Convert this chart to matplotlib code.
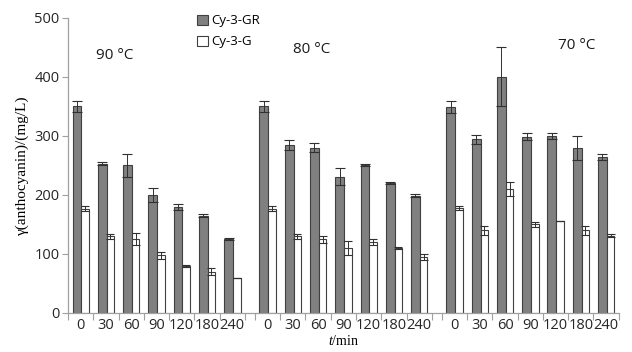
import matplotlib.pyplot as plt
import numpy as np

times = ['0', '30', '60', '90', '120', '180', '240']
temps = ['90 °C', '80 °C', '70 °C']

# Cy-3-GR, one row per temperature
gr = [[350, 253, 250, 200, 180, 165, 125],
      [350, 285, 280, 231, 251, 220, 199],
      [349, 294, 400, 299, 300, 280, 265]]
gr_err = [[10, 2, 20, 12, 5, 3, 2],
          [10, 8, 8, 15, 2, 2, 2],
          [10, 7, 50, 6, 5, 20, 5]]

# Cy-3-G
g = [[177, 130, 125, 98, 80, 70, 60],
     [177, 130, 125, 110, 120, 110, 95],
     [178, 140, 210, 150, 155, 140, 131]]
g_err = [[4, 4, 10, 6, 2, 6, 0],
         [4, 4, 6, 12, 5, 1, 5],
         [3, 8, 12, 4, 0, 8, 2]]

gap = 0.4
n = len(times)
offs = [k * (n + gap) for k in range(len(temps))]

plt.rcParams['font.family'] = ['Open Sans', 'DejaVu Sans']
plt.rcParams['mathtext.fontset'] = 'custom'
plt.rcParams['mathtext.it'] = 'Liberation Serif:italic'
plt.rcParams['mathtext.rm'] = 'Liberation Serif'

fig = plt.figure(figsize=(6.32, 3.52), dpi=100)
ax = fig.add_axes([0.1076, 0.111, 0.8714, 0.838])

gr_w = 0.35
g_w = 0.30
edge = '#404040'
for k in range(len(temps)):
    x = offs[k] + np.arange(n)
    ax.bar(x + 0.18, gr[k], gr_w, align='edge', color='#808080', edgecolor=edge,
           linewidth=0.8, label='Cy-3-GR' if k == 0 else None)
    ax.bar(x + 0.18 + gr_w, g[k], g_w, align='edge', color='white', edgecolor=edge,
           linewidth=0.8, label='Cy-3-G' if k == 0 else None)
    ax.errorbar(x + 0.18 + gr_w / 2, gr[k], yerr=gr_err[k], fmt='none',
                ecolor='#303030', elinewidth=0.7, capsize=3.5, capthick=0.8)
    ax.errorbar(x + 0.18 + gr_w + g_w / 2, g[k], yerr=g_err[k], fmt='none',
                ecolor='#303030', elinewidth=0.7, capsize=3, capthick=0.8)

# category labels and tick marks at boundaries
centers = np.concatenate([o + np.arange(n) + 0.5 for o in offs])
bounds = np.concatenate([o + np.arange(n + 1) for o in offs])
ax.set_xticks(bounds)
ax.set_xticklabels([])
ax.set_xticks(centers, minor=True)
ax.set_xticklabels(times * len(temps), minor=True)
ax.tick_params(axis='x', which='major', length=5, width=0.8, color='#a0a0a0')
ax.tick_params(axis='x', which='minor', length=0, pad=4, labelsize=10.5,
               labelcolor='#262626')
ax.tick_params(axis='y', length=4, width=0.8, color='#a0a0a0', labelsize=10.5,
               labelcolor='#262626', pad=2)

ax.set_xlim(0, offs[-1] + n)
ax.set_ylim(0, 500)
ax.set_yticks([0, 100, 200, 300, 400, 500])
for s in ['top', 'right']:
    ax.spines[s].set_visible(False)
for s in ['left', 'bottom']:
    ax.spines[s].set_color('#a0a0a0')
    ax.spines[s].set_linewidth(0.9)

ax.set_ylabel('γ(anthocyanin)/(mg/L)', family='Liberation Serif', fontsize=11,
              labelpad=4)
ax.set_xlabel('$\\mathit{t}$/min', family='Liberation Serif', fontsize=10)
ax.xaxis.set_label_coords(0.5, -0.072)

# temperature labels
ax.text(offs[0] + 1.1, 430, temps[0], fontsize=11, color='#1a1a1a')
ax.text(offs[1] + 1.5, 440, temps[1], fontsize=11, color='#1a1a1a')
ax.text(offs[2] + 4.6, 448, temps[2], fontsize=11, color='#1a1a1a')

ax.legend(loc='upper left', bbox_to_anchor=(0.225, 1.03), frameon=False,
          fontsize=9.5, handlelength=0.8, handleheight=0.8, handletextpad=0.3,
          labelspacing=0.6, borderaxespad=0)

fig.savefig('out.png', dpi=100)
